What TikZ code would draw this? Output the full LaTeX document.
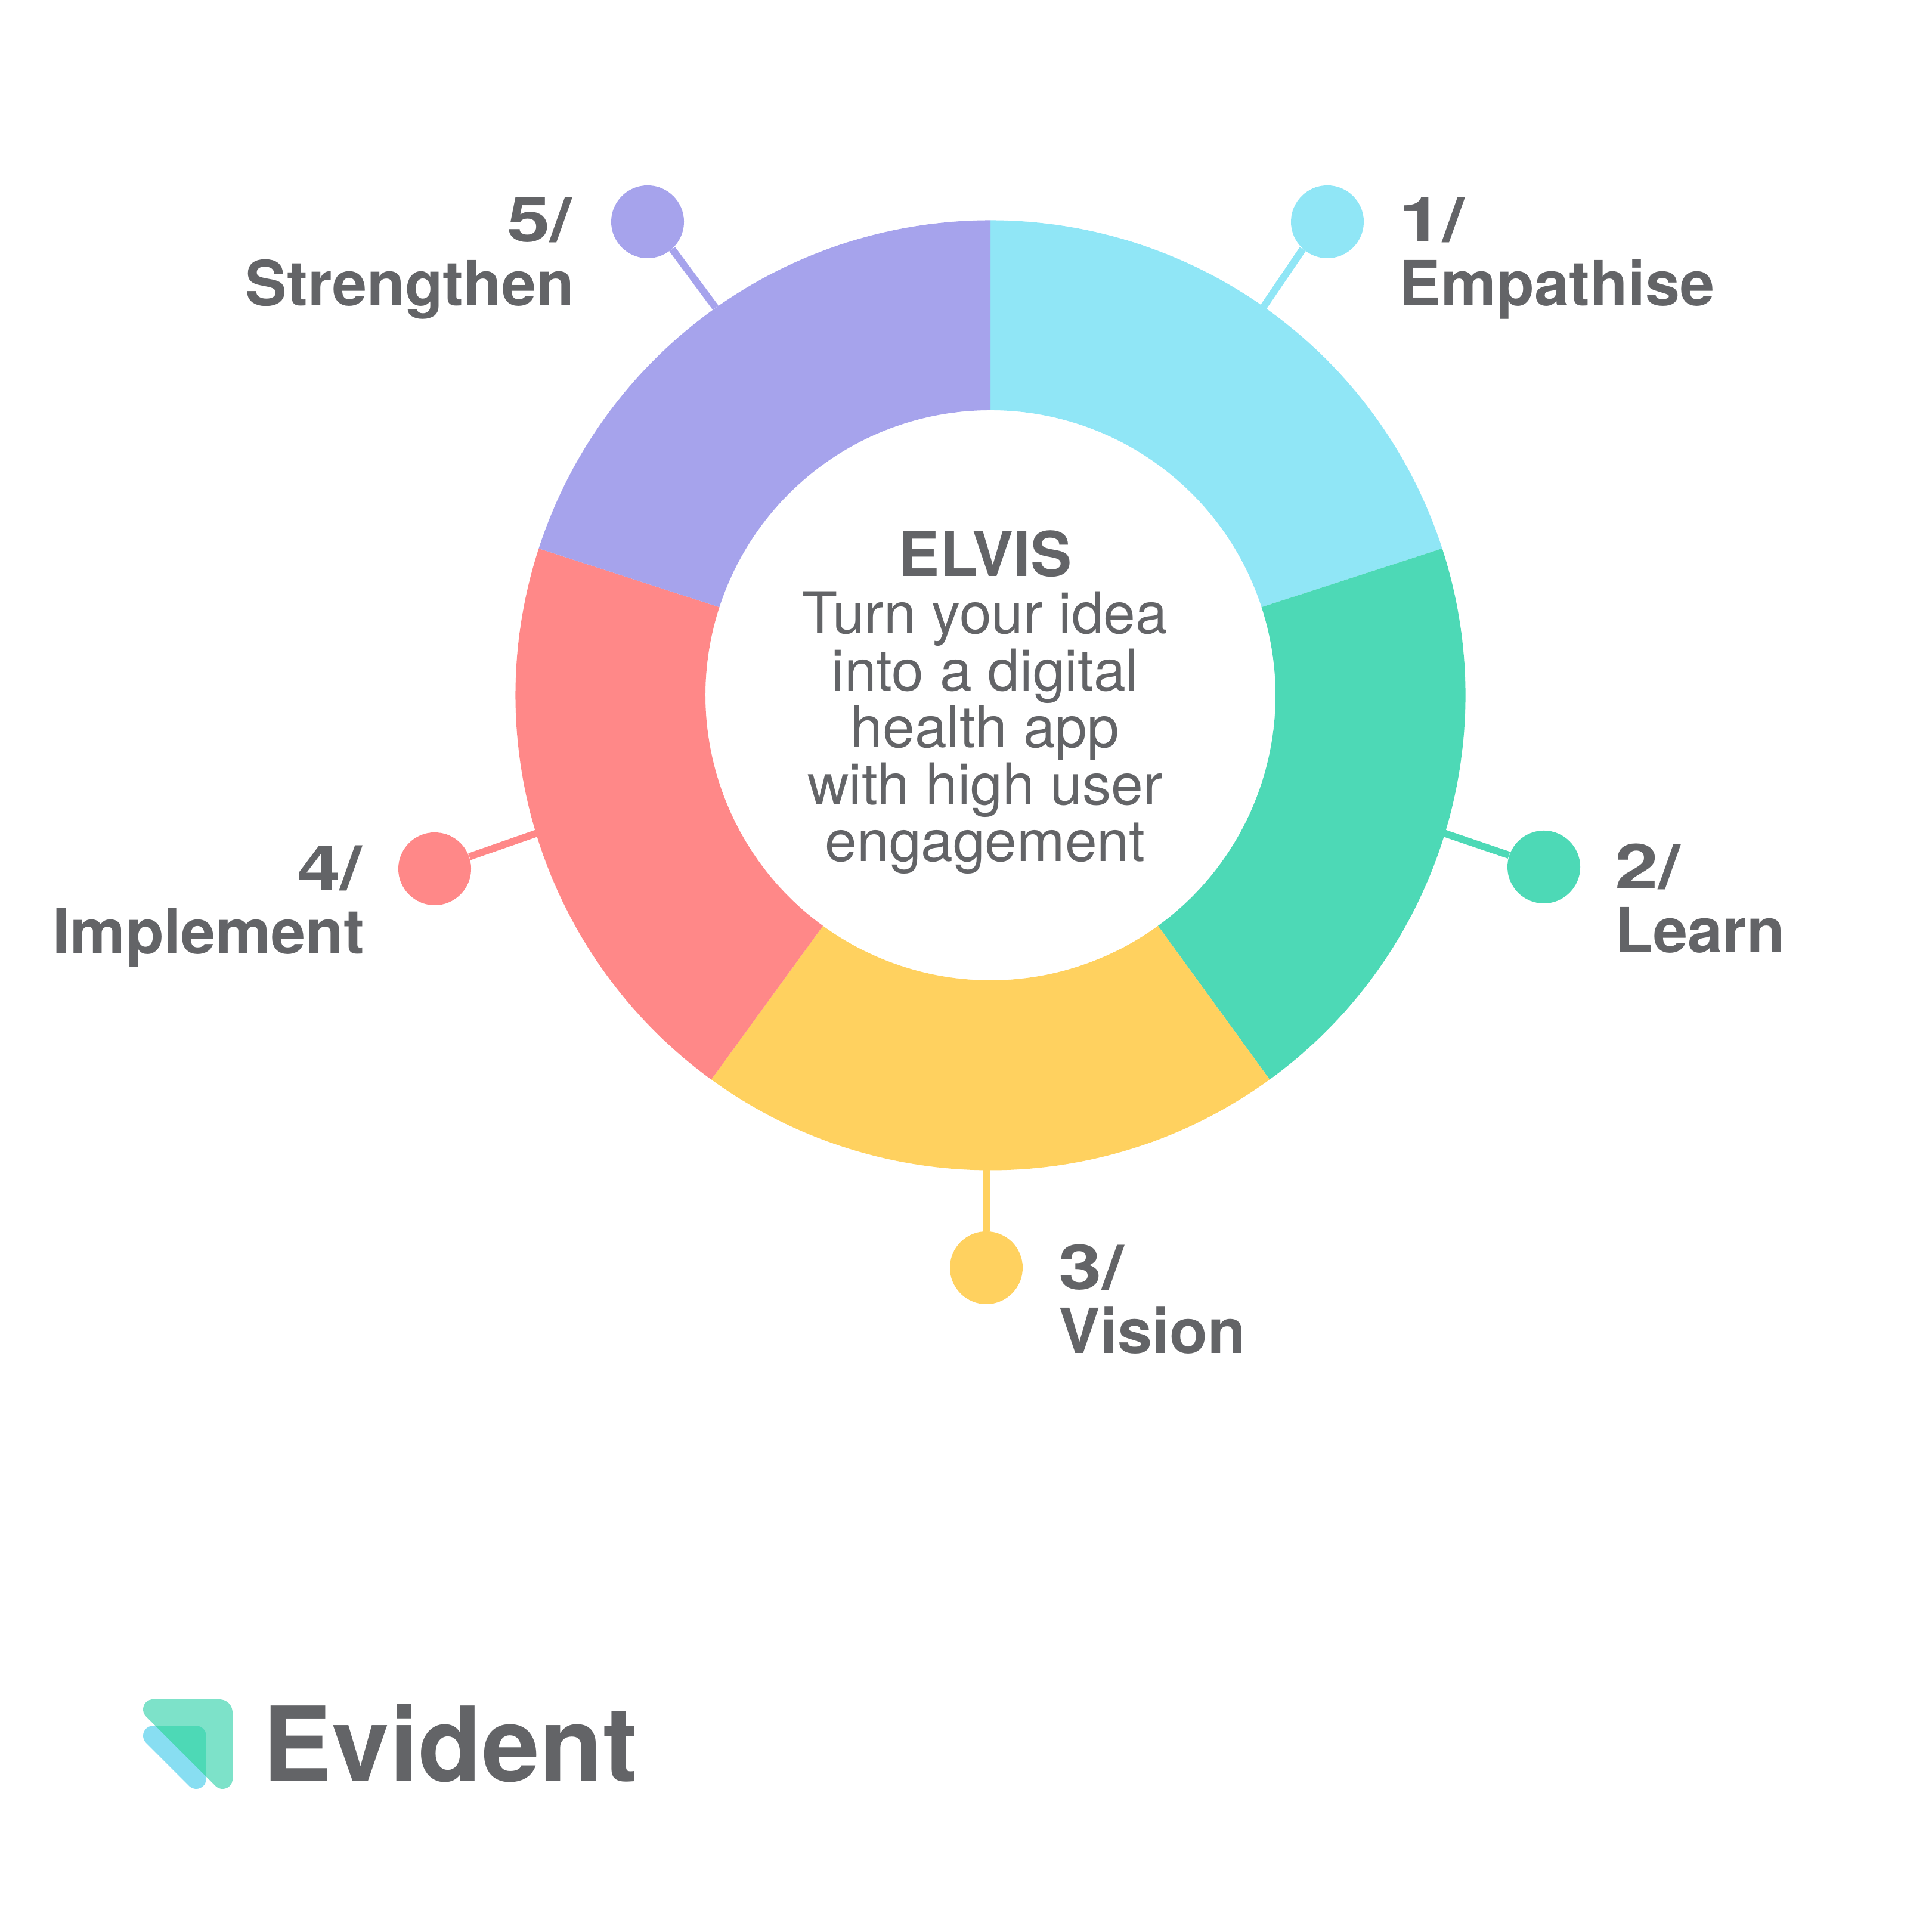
\documentclass[tikz,border=0pt]{standalone}
\usepackage{fontspec}
\setmainfont{TeX Gyre Heros}
\definecolor{elvisgray}{HTML}{636467}
\definecolor{elviscyan}{HTML}{90E6F6}
\definecolor{elvisgreen}{HTML}{4DD9B6}
\definecolor{elvisyellow}{HTML}{FFD15F}
\definecolor{elvisred}{HTML}{FF8888}
\definecolor{elvispurple}{HTML}{A6A3EC}
\definecolor{logogreen}{HTML}{7DE2C9}
\definecolor{logoblue}{HTML}{88DEF2}
\newcommand{\stepnum}[1]{{\addfontfeature{FakeStretch=1.25}#1}}
\newcommand{\logoback}{(2.567,3.90) -- (3.68,3.90) arc (90:0:.22) -- (3.90,2.567) arc (0:-135:.167) -- (2.449,3.615) arc (225:90:.167) -- cycle}
\newcommand{\logofront}{(2.567,3.457) -- (3.29,3.457) arc (90:0:.167) -- (3.457,2.567) arc (0:-135:.167) -- (2.449,3.172) arc (225:90:.167) -- cycle}
\tikzset{
	dot/.style={circle,inner sep=0pt,minimum size=1.22cm},
	stem/.style={line width=0.12cm},
	steplabel/.style={text=elvisgray,font=\fontsize{29.7}{30.6}\selectfont\bfseries,inner sep=0pt},
}

\begin{document}
\begin{tikzpicture}
	\useasboundingbox (0,0) rectangle (32.4,32.4);
	\coordinate (mid) at (16.61,20.74);
	% dots with their stems
	\node[dot,fill=elviscyan] (dotone) at (22.26,28.68) {};
	\node[dot,fill=elvisgreen] (dottwo) at (25.89,17.86) {};
	\node[dot,fill=elvisyellow] (dotthree) at (16.54,11.14) {};
	\node[dot,fill=elvisred] (dotfour) at (7.29,17.83) {};
	\node[dot,fill=elvispurple] (dotfive) at (10.86,28.68) {};
	\coordinate (ringone) at (21.18,27.24);
	\coordinate (ringtwo) at (24.21,18.43);
	\coordinate (ringthree) at (16.54,12.88);
	\coordinate (ringfour) at (9.01,18.43);
	\coordinate (ringfive) at (12.00,27.24);
	\draw[stem,elviscyan] (ringone) -- (dotone.228);
	\draw[stem,elvisgreen] (ringtwo) -- (dottwo);
	\draw[stem,elvisyellow] (ringthree) -- (dotthree);
	\draw[stem,elvisred] (ringfour) -- (dotfour);
	\draw[stem,elvispurple] (ringfive) -- (dotfive.-48);
	% the ring
	\foreach \a/\c in {90/elviscyan,18/elvisgreen,-54/elvisyellow,-126/elvisred,-198/elvispurple}
		\fill[\c,shift={(mid)}] (\a:7.965) arc (\a:\a-72:7.965) -- (\a-72:4.78) arc (\a-72:\a:4.78) -- cycle;
	\node[steplabel,anchor=base west,align=left] (labelone) at (23.46,27.27) {\stepnum{1/}\\Empathise};
	\node[steplabel,anchor=base west,align=left] (labeltwo) at (27.08,16.42) {\stepnum{2/}\\Learn};
	\node[steplabel,anchor=base west,align=left] (labelthree) at (17.75,9.70) {\stepnum{3/}\\Vision};
	\node[steplabel,anchor=base east,align=right] (labelfour) at (6.12,16.40) {\stepnum{4/}\kern1.2pt\\Implement};
	\node[steplabel,anchor=base east,align=right] (labelfive) at (9.64,27.27) {\stepnum{5/}\kern1.2pt\\Strengthen};
	% centre text
	\node[text=elvisgray,inner sep=0pt,align=center,anchor=base,font=\fontsize{27.5}{27.2}\selectfont] (elvis) at (16.52,17.95)
		{{\fontsize{29.5}{27.2}\selectfont\bfseries ELVIS}\\Turn your idea\\into a digital\\health app\\with high user\\engagement};
	% logo
	\fill[logogreen] \logoback;
	\fill[logoblue] \logofront;
	\begin{scope}
		\clip \logofront;
		\fill[elvisgreen] \logoback;
	\end{scope}
	\node[text=elvisgray,inner sep=0pt,anchor=base west,font=\fontsize{49.5}{50}\selectfont\bfseries] (evident) at (4.40,2.52) {Evident};
\end{tikzpicture}
\end{document}
